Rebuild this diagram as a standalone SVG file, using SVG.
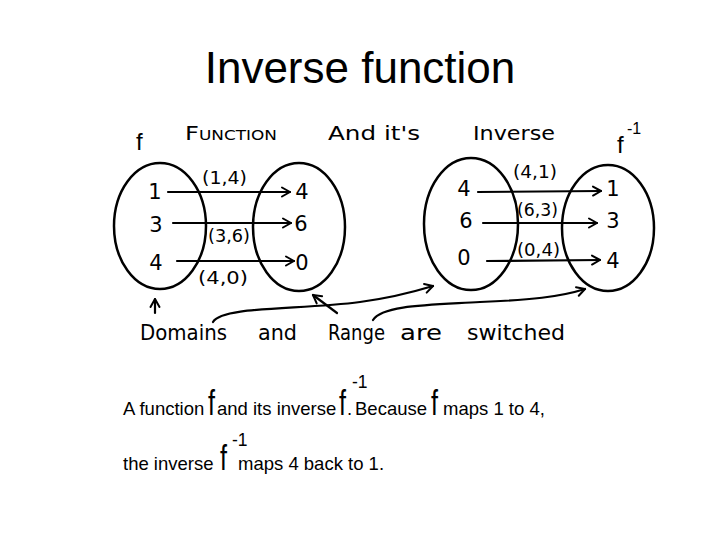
<svg xmlns="http://www.w3.org/2000/svg" width="720" height="540" viewBox="0 0 720 540">
<defs>
<style>
.hand{font-family:"DejaVu Sans","Noto Sans",sans-serif;fill:#000}
.num{font-family:"DejaVu Sans","Noto Sans",sans-serif;font-size:21px;fill:#000;text-anchor:middle}
.pair{font-family:"DejaVu Sans","Noto Sans",sans-serif;font-size:17px;fill:#000}
.set{fill:none;stroke:#000;stroke-width:2.5}
.ln{fill:none;stroke:#000;stroke-width:2.2;stroke-linecap:round}
.sans{font-family:"Liberation Sans",Arial,sans-serif;fill:#000}
.body{font-size:18.5px}
.sup{font-size:17.5px}
</style>
<marker id="ah" viewBox="0 0 12 12" refX="10" refY="6" markerWidth="12" markerHeight="12" markerUnits="userSpaceOnUse" orient="auto">
<path d="M2,1.5 L10,6 L2,10.5" fill="none" stroke="#000" stroke-width="2" stroke-linecap="round" stroke-linejoin="round"/>
</marker>
</defs>
<rect width="720" height="540" fill="#fff"/>

<text class="sans" x="360" y="83" font-size="44" text-anchor="middle">Inverse function</text>

<g id="labels-top">
<text class="sans" x="136" y="150" font-size="24">f</text>
<text class="hand" x="185" y="140" font-size="20" font-variant="small-caps" textLength="92" lengthAdjust="spacingAndGlyphs">Function</text>
<text class="hand" x="328" y="140" font-size="20" textLength="92" lengthAdjust="spacingAndGlyphs">And it's</text>
<text class="hand" x="473" y="140" font-size="20" textLength="82" lengthAdjust="spacingAndGlyphs">Inverse</text>
<text class="sans" x="617" y="153" font-size="24">f</text>
<text class="sans" x="627" y="134" font-size="16">-1</text>
</g>

<g id="f-domain">
<ellipse class="set" cx="160" cy="226" rx="46" ry="63"/>
<text class="num" x="155" y="199">1</text>
<text class="num" x="156" y="232">3</text>
<text class="num" x="156" y="270">4</text>
</g>
<g id="f-range">
<ellipse class="set" cx="299" cy="227" rx="46" ry="64"/>
<text class="num" x="302" y="199">4</text>
<text class="num" x="301" y="231">6</text>
<text class="num" x="302" y="270">0</text>
</g>
<g id="finv-domain">
<ellipse class="set" cx="471" cy="224" rx="47" ry="66"/>
<text class="num" x="464" y="196">4</text>
<text class="num" x="466" y="228">6</text>
<text class="num" x="464" y="265">0</text>
</g>
<g id="finv-range">
<ellipse class="set" cx="608" cy="228" rx="46" ry="63"/>
<text class="num" x="613" y="196">1</text>
<text class="num" x="613" y="228">3</text>
<text class="num" x="613" y="268">4</text>
</g>

<g id="connectors">
<line class="ln" x1="168" y1="192" x2="290" y2="192" marker-end="url(#ah)"/>
<line class="ln" x1="173" y1="223" x2="291" y2="223" marker-end="url(#ah)"/>
<line class="ln" x1="177" y1="261" x2="294" y2="261" marker-end="url(#ah)"/>
<line class="ln" x1="478" y1="192" x2="601" y2="191" marker-end="url(#ah)"/>
<line class="ln" x1="483" y1="223" x2="597" y2="223" marker-end="url(#ah)"/>
<line class="ln" x1="487" y1="261" x2="600" y2="260" marker-end="url(#ah)"/>
<line class="ln" x1="155" y1="313" x2="155" y2="299" marker-end="url(#ah)"/>
<line class="ln" x1="337" y1="313" x2="313" y2="295" marker-end="url(#ah)"/>
<path class="ln" d="M213,322 C222,306 300,310 360,302 C390,298 410,293 433,286" marker-end="url(#ah)"/>
<path class="ln" d="M373,320 C382,305 430,305 480,302 C530,300 560,297 585,289" marker-end="url(#ah)"/>
</g>

<g id="pair-labels">
<text class="pair" x="202" y="184" textLength="45" lengthAdjust="spacingAndGlyphs">(1,4)</text>
<text class="pair" x="208" y="242" textLength="42" lengthAdjust="spacingAndGlyphs">(3,6)</text>
<text class="pair" x="198" y="284" textLength="50" lengthAdjust="spacingAndGlyphs">(4,0)</text>
<text class="pair" x="513" y="178" textLength="44" lengthAdjust="spacingAndGlyphs">(4,1)</text>
<text class="pair" x="517" y="216" textLength="41" lengthAdjust="spacingAndGlyphs">(6,3)</text>
<text class="pair" x="517" y="256" textLength="43" lengthAdjust="spacingAndGlyphs">(0,4)</text>
</g>

<g id="caption-hand">
<text class="hand" x="140" y="340" font-size="22" textLength="87" lengthAdjust="spacingAndGlyphs">Domains</text>
<text class="hand" x="258" y="340" font-size="22" textLength="39" lengthAdjust="spacingAndGlyphs">and</text>
<text class="hand" x="328" y="340" font-size="22" textLength="57" lengthAdjust="spacingAndGlyphs">Range</text>
<text class="hand" x="400" y="340" font-size="22" textLength="42" lengthAdjust="spacingAndGlyphs">are</text>
<text class="hand" x="467" y="340" font-size="22" textLength="98" lengthAdjust="spacingAndGlyphs">switched</text>
</g>

<g id="caption">
<text class="sans body" x="123" y="415">A function</text>
<text class="sans" font-size="36" transform="translate(208,415) scale(0.7,1)">f</text>
<text class="sans body" x="217" y="415">and its inverse</text>
<text class="sans" font-size="36" transform="translate(339,415) scale(0.7,1)">f</text>
<text class="sans sup" x="352" y="388">-1</text>
<text class="sans body" x="347" y="415">.</text>
<text class="sans body" x="355" y="415">Because</text>
<text class="sans" font-size="36" transform="translate(431,415) scale(0.7,1)">f</text>
<text class="sans body" x="443" y="415">maps 1 to 4,</text>
<text class="sans body" x="123" y="470">the inverse</text>
<text class="sans" font-size="36" transform="translate(220,470) scale(0.7,1)">f</text>
<text class="sans sup" x="232" y="446">-1</text>
<text class="sans body" x="238" y="470">maps 4 back to 1.</text>
</g>
</svg>
